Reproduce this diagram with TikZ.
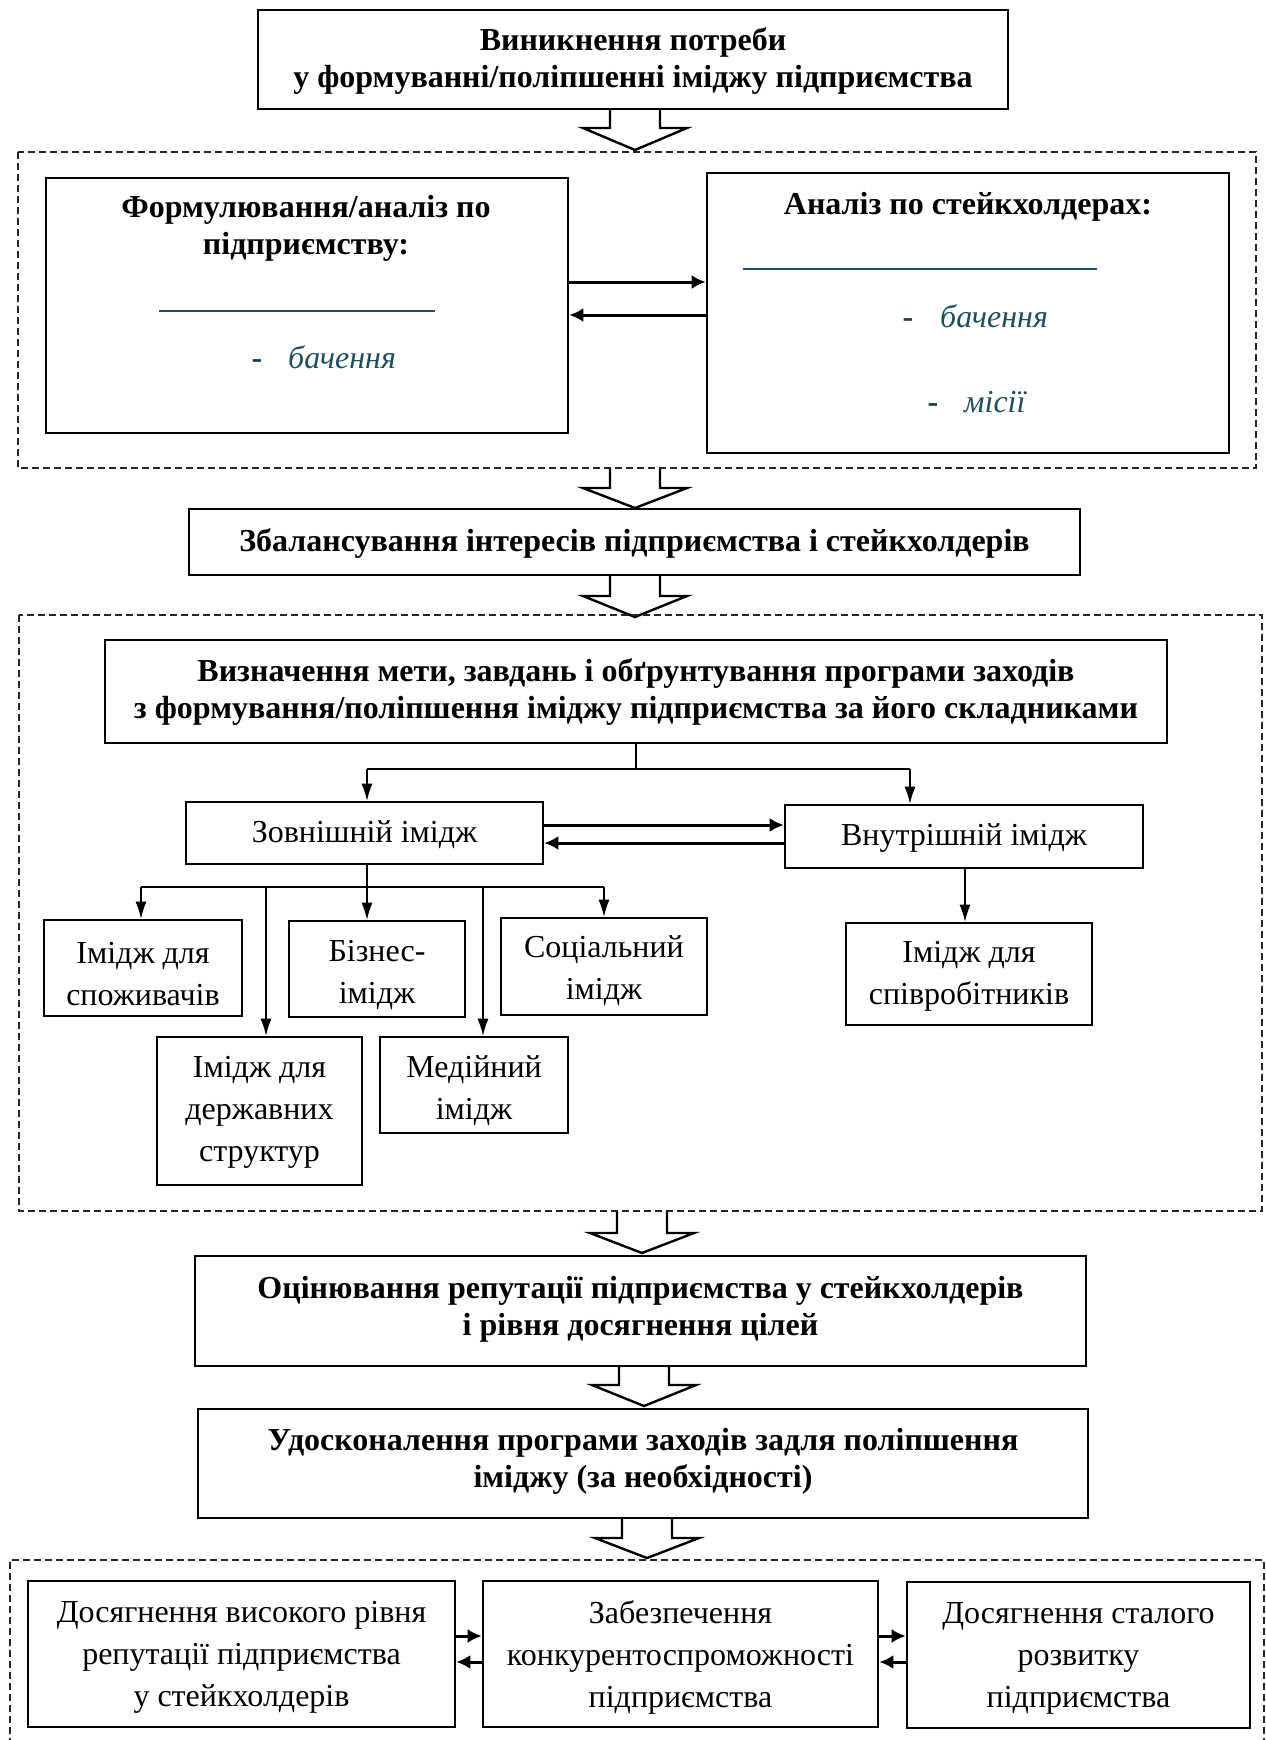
\documentclass[tikz,border=0pt]{standalone}
\usepackage{fontspec}
\setmainfont{Liberation Serif}
\usetikzlibrary{arrows.meta}
\definecolor{teal1}{HTML}{1F4E5F}
\newcommand{\harrow}[4]{%
  \draw[hollow] (#1-25,#2) -- (#1-25,#3) -- (#1-52,#3) -- (#1,#4) -- (#1+52,#3) -- (#1+25,#3) -- (#1+25,#2);}
\begin{document}
\begin{tikzpicture}[x=1pt,y=-1pt,
  bx/.style={draw, line width=2.6pt, inner sep=0pt, align=center},
  bold/.style={font=\fontsize{32}{37}\selectfont\bfseries, align=center, inner sep=0pt},
  reg/.style={font=\fontsize{32}{42}\selectfont, align=center, inner sep=0pt},
  tl/.style={font=\fontsize{32}{37}\selectfont\itshape, text=teal1, inner sep=0pt, anchor=base west},
  dsh/.style={font=\fontsize{32}{37}\selectfont\bfseries, text=teal1!80!black, inner sep=0pt, anchor=base},
  dbox/.style={draw=black!85, line width=1.2pt, dash pattern=on 7pt off 4pt},
  conn/.style={line width=1.3pt, -{Latex[length=17pt,width=11pt]}},
  plain/.style={line width=1.3pt},
  biarrow/.style={line width=3pt, -{Latex[length=14pt,width=14pt]}},
  hollow/.style={draw, line width=2.4pt, fill=white, line join=miter},
  uline/.style={draw=teal1, line width=2pt}
]
\useasboundingbox (0,0) rectangle (1266,1740);
\fill[white] (0,0) rectangle (1266,1740);

% hollow block arrows
\harrow{635}{109}{128}{150}
\harrow{635}{468}{488}{508}
\harrow{635}{575}{596}{617}
\harrow{642}{1211}{1233}{1253}
\harrow{644}{1366}{1385}{1406}
\harrow{647}{1518}{1538}{1558}

% dashed groups
\draw[dbox] (18,152) rectangle (1256,468);
\draw[dbox] (19,615) rectangle (1262,1211);
\draw[dbox] (10,1745) -- (10,1560) -- (1264,1560) -- (1264,1745);

% top box
\node[bx, minimum width=750, minimum height=99] (top) at (633,59.5) {};
\node[bold] (topt) at (633,61) {Виникнення потреби\\у формуванні/поліпшенні іміджу підприємства};

% left analysis box
\node[bx, minimum width=522, minimum height=255] (L) at (307,305.5) {};
\node[bold] (Lt) at (306,228.5) {Формулювання/аналіз по\\підприємству:};
\draw[uline] (159,311) -- (435,311);
\node[dsh] (Ld) at (257,368) {-};
\node[tl] (Lb) at (288,368) {бачення};

% right analysis box
\node[bx, minimum width=522, minimum height=280] (R) at (968,313) {};
\node[bold] (Rt) at (968,207) {Аналіз по стейкхолдерах:};
\draw[uline] (743,269) -- (1097,269);
\node[dsh] (Rd1) at (908,327) {-};
\node[tl] (Rb) at (940,327) {бачення};
\node[dsh] (Rd2) at (933,412) {-};
\node[tl] (Rm) at (964,412) {місії};

\coordinate (yA) at (0,282);
\coordinate (yB) at (0,315);
\draw[biarrow] (L.east |- yA) -- (R.west |- yA);
\draw[biarrow] (R.west |- yB) -- (L.east |- yB);

% balance box
\node[bx, minimum width=891, minimum height=66] (Z) at (634.5,542) {};
\node[bold] (Zt) at (634.5,543) {Збалансування інтересів підприємства і стейкхолдерів};

% goals box
\node[bx, minimum width=1062, minimum height=103] (V) at (636,691.5) {};
\node[bold] (Vt) at (636,692) {Визначення мети, завдань і обґрунтування програми заходів\\з формування/поліпшення іміджу підприємства за його складниками};

% external / internal
\node[bx, minimum width=357, minimum height=62] (Zo) at (364.5,833) {};
\node[reg] (Zot) at (364.5,835) {Зовнішній імідж};
\node[bx, minimum width=358, minimum height=63] (Vn) at (964,836.5) {};
\node[reg] (Vnt) at (964,838) {Внутрішній імідж};

\coordinate (b1) at (367,769);
\coordinate (b2) at (910,769);
\draw[plain] (V.south) -- (V.south |- b1);
\draw[plain] (b1) -- (b2);
\draw[conn] (b1) -- (b1 |- Zo.north);
\draw[conn] (b2) -- (b2 |- Vn.north);

\coordinate (yC) at (0,825);
\coordinate (yD) at (0,843);
\draw[biarrow] (Zo.east |- yC) -- (Vn.west |- yC);
\draw[biarrow] (Vn.west |- yD) -- (Zo.east |- yD);

% image types
\node[bx, minimum width=198, minimum height=96] (Sp) at (143,968) {};
\node[reg] (Spt) at (143,974) {Імідж для\\споживачів};
\node[bx, minimum width=176, minimum height=96] (Bi) at (377,969) {};
\node[reg] (Bit) at (377,975) {Бізнес-\\імідж};
\node[bx, minimum width=206, minimum height=97] (So) at (604,966.5) {};
\node[reg] (Sot) at (604,971) {Соціальний\\імідж};
\node[bx, minimum width=205, minimum height=148] (De) at (259.5,1111) {};
\node[reg] (Det) at (259.5,1112) {Імідж для\\державних\\структур};
\node[bx, minimum width=188, minimum height=96] (Me) at (474,1085) {};
\node[reg] (Met) at (474,1091) {Медійний\\імідж};
\node[bx, minimum width=246, minimum height=102] (Sv) at (969,974) {};
\node[reg] (Svt) at (969,976) {Імідж для\\співробітників};

\coordinate (h1) at (141,887);
\coordinate (h2) at (604,887);
\coordinate (h3) at (266,887);
\coordinate (h4) at (483,887);
\coordinate (zb) at (367,864);
\draw[conn] (zb) -- (zb |- Bi.north);
\draw[plain] (h1) -- (h2);
\draw[conn] (h1) -- (h1 |- Sp.north);
\draw[conn] (h2) -- (h2 |- So.north);
\draw[conn] (h3) -- (h3 |- De.north);
\draw[conn] (h4) -- (h4 |- Me.north);
\coordinate (vb) at (965,868);
\draw[conn] (vb) -- (vb |- Sv.north);

% evaluation
\node[bx, minimum width=891, minimum height=110] (O) at (640.5,1311) {};
\node[bold] (Ot) at (640.5,1309) {Оцінювання репутації підприємства у стейкхолдерів\\і рівня досягнення цілей};
\node[bx, minimum width=890, minimum height=109] (U) at (643,1463.5) {};
\node[bold] (Ut) at (643,1461) {Удосконалення програми заходів задля поліпшення\\іміджу (за необхідності)};

% results
\node[bx, minimum width=427, minimum height=146] (A) at (241.5,1654) {};
\node[reg] (At) at (241.5,1657) {Досягнення високого рівня\\репутації підприємства\\у стейкхолдерів};
\node[bx, minimum width=395, minimum height=146] (B) at (680.5,1654) {};
\node[reg] (Bt) at (680.5,1657) {Забезпечення\\конкурентоспроможності\\підприємства};
\node[bx, minimum width=343, minimum height=146] (C) at (1078.5,1655) {};
\node[reg] (Ct) at (1078.5,1658) {Досягнення сталого\\розвитку\\підприємства};

\coordinate (yE) at (0,1636);
\coordinate (yF) at (0,1662);
\draw[biarrow] (A.east |- yE) -- (B.west |- yE);
\draw[biarrow] (B.west |- yF) -- (A.east |- yF);
\draw[biarrow] (B.east |- yE) -- (C.west |- yE);
\draw[biarrow] (C.west |- yF) -- (B.east |- yF);
\end{tikzpicture}
\end{document}
